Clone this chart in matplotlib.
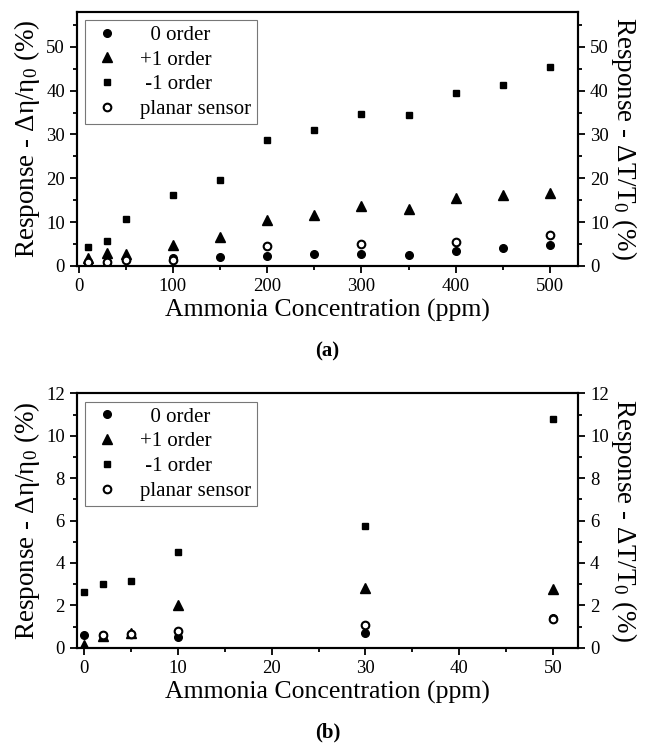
import matplotlib
matplotlib.use("Agg")
import matplotlib.pyplot as plt
from matplotlib.ticker import MultipleLocator

plt.rcParams['font.family'] = ['Liberation Serif', 'DejaVu Serif']
plt.rcParams['mathtext.fontset'] = 'custom'
plt.rcParams['mathtext.rm'] = 'Liberation Serif'
plt.rcParams['mathtext.it'] = 'Liberation Serif:italic'

# ---- panel (a) data ----
xa = [10, 30, 50, 100, 150, 200, 250, 300, 350, 400, 450, 500]
a_zero = [0.4, 0.9, 1.7, 1.9, 2.0, 2.3, 2.75, 2.75, 2.5, 3.5, 4.0, 4.8]
a_plus = [1.9, 2.9, 2.75, 4.8, 6.7, 10.5, 11.7, 13.7, 13.1, 15.5, 16.3, 16.7]
a_minus = [4.4, 5.7, 10.7, 16.2, 19.5, 28.8, 31.1, 34.6, 34.4, 39.5, 41.3, 45.3]
xa_planar = [10, 30, 50, 100, 200, 300, 400, 500]
a_planar = [0.9, 0.85, 1.3, 1.4, 4.6, 5.0, 5.5, 7.0]

# ---- panel (b) data ----
xb = [0, 2, 5, 10, 30, 50]
b_zero = [0.6, 0.6, 0.65, 0.5, 0.7, 1.4]
b_plus = [0.15, 0.55, 0.7, 2.0, 2.8, 2.75]
b_minus = [2.62, 3.0, 3.15, 4.53, 5.76, 10.8]
xb_planar = [2, 5, 10, 30, 50]
b_planar = [0.6, 0.65, 0.8, 1.05, 1.35]

labels = ["  0 order", "+1 order", " -1 order", "planar sensor"]

fig = plt.figure(figsize=(6.45, 7.49), dpi=100)
ax1 = fig.add_axes([0.1189, 0.6449, 0.7777, 0.3395])
ax2 = fig.add_axes([0.1189, 0.1352, 0.7777, 0.3395])

def draw(ax, x, z, p, m, xp, pl, xlim, ylim, xmaj, xmin, ymaj, ymin, tag):
    ax.plot(x, z, 'o', color='black', ms=5.5, ls='none', label=labels[0])
    ax.plot(x, p, '^', color='black', ms=6.5, ls='none', label=labels[1])
    ax.plot(x, m, 's', color='black', ms=5, ls='none', label=labels[2])
    ax.plot(xp, pl, 'o', mfc='white', mec='black', mew=1.5, ms=5.5, ls='none', label=labels[3])
    ax.set_xlim(*xlim)
    ax.set_ylim(*ylim)
    ax.xaxis.set_major_locator(MultipleLocator(xmaj))
    ax.xaxis.set_minor_locator(MultipleLocator(xmin))
    ax.yaxis.set_major_locator(MultipleLocator(ymaj))
    ax.yaxis.set_minor_locator(MultipleLocator(ymin))
    ax.tick_params(which='both', direction='out', width=1.3, labelsize=13.5)
    ax.tick_params(which='major', length=5)
    ax.tick_params(which='minor', length=3)
    for s in ax.spines.values():
        s.set_linewidth(1.5)
    ax.set_xlabel("Ammonia Concentration (ppm)", fontsize=18.5, labelpad=3)
    ax.set_ylabel("Response - Δη/η$_0$ (%)", fontsize=19.5, labelpad=3)
    axr = ax.twinx()
    axr.set_ylim(*ylim)
    axr.yaxis.set_major_locator(MultipleLocator(ymaj))
    axr.yaxis.set_minor_locator(MultipleLocator(ymin))
    axr.tick_params(which='both', direction='out', width=1.3, labelsize=13.5)
    axr.tick_params(which='major', length=5)
    axr.tick_params(which='minor', length=3)
    for s in axr.spines.values():
        s.set_linewidth(1.5)
    axr.set_ylabel("Response - ΔT/T$_0$ (%)", fontsize=19.5, rotation=-90, labelpad=22)
    leg = ax.legend(loc='upper left', fontsize=15, frameon=True, fancybox=False,
                    edgecolor='#555555', handletextpad=0.8, borderpad=0.25,
                    labelspacing=0.25, handlelength=1.6, borderaxespad=0.4)
    leg.get_frame().set_linewidth(0.8)
    ax.text(0.5, -0.335, tag, transform=ax.transAxes, ha='center', va='center',
            fontsize=15, fontweight='bold')

draw(ax1, xa, a_zero, a_plus, a_minus, xa_planar, a_planar,
     (-2, 530), (0, 58), 100, 50, 10, 5, "(a)")
draw(ax2, xb, b_zero, b_plus, b_minus, xb_planar, b_planar,
     (-0.8, 52.7), (0, 12), 10, 5, 2, 1, "(b)")

fig.savefig("out.png", dpi=100)
